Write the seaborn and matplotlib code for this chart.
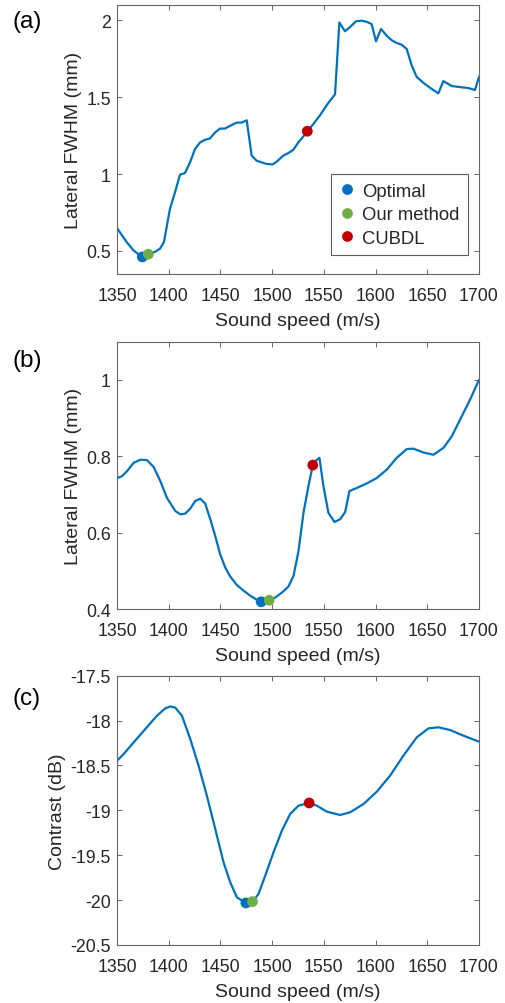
import matplotlib
matplotlib.use("Agg")
import matplotlib.pyplot as plt
import seaborn as sns
import pandas as pd
from matplotlib.ticker import FormatStrFormatter

# ----------------------------
# Data
# ----------------------------
speed_a = [1350, 1359.3, 1365.8, 1373.9, 1380.3, 1386.7, 1391.6, 1395.4, 1401.2, 1406.1,
           1410.9, 1415.7, 1420.6, 1425.4, 1430.3, 1435.1, 1439.9, 1444.8, 1449.6, 1454.4,
           1459.3, 1465.7, 1470.5, 1475.4, 1480.2, 1485.0, 1489.9, 1494.7, 1500.5, 1504.4,
           1510.8, 1515.7, 1520.5, 1525.3, 1530.2, 1534.0, 1539.8, 1546.3, 1552.7, 1560.8,
           1565.0, 1570.4, 1575.3, 1581.1, 1586.6, 1591.4, 1596.2, 1600.4, 1605.3, 1610.7,
           1615.6, 1620.4, 1625.2, 1630.1, 1634.9, 1639.7, 1646.2, 1652.6, 1660.7, 1665.5,
           1673.6, 1681.6, 1689.7, 1696.1, 1700]
fwhm_a = [0.649, 0.558, 0.505, 0.461, 0.479, 0.494, 0.515, 0.558, 0.774, 0.882,
          0.996, 1.007, 1.076, 1.163, 1.206, 1.223, 1.232, 1.271, 1.296, 1.296,
          1.314, 1.335, 1.335, 1.350, 1.120, 1.087, 1.076, 1.066, 1.063, 1.081,
          1.120, 1.137, 1.158, 1.206, 1.245, 1.279, 1.325, 1.383, 1.448, 1.519,
          1.987, 1.929, 1.957, 1.994, 1.998, 1.991, 1.976, 1.864, 1.944, 1.901,
          1.871, 1.853, 1.842, 1.814, 1.707, 1.633, 1.594, 1.562, 1.525, 1.605,
          1.573, 1.566, 1.560, 1.547, 1.633]

speed_b = [1350, 1354.8, 1359.7, 1366.1, 1372.5, 1379.0, 1385.4, 1391.9, 1398.3, 1406.3,
           1411.2, 1416.0, 1420.8, 1425.7, 1430.5, 1435.3, 1440.2, 1445.0, 1449.8, 1454.6,
           1459.5, 1465.9, 1472.4, 1478.8, 1485.2, 1489.4, 1497.2, 1502.9, 1509.4, 1515.8,
           1520.7, 1525.5, 1530.3, 1535.1, 1539.3, 1541.6, 1545.7, 1549.6, 1554.4, 1560.3,
           1565.7, 1570.6, 1574.7, 1581.8, 1591.5, 1601.1, 1610.8, 1620.5, 1630.1, 1636.6,
           1646.2, 1655.9, 1665.6, 1673.6, 1681.7, 1691.3, 1700]
fwhm_b = [0.743, 0.748, 0.761, 0.783, 0.791, 0.790, 0.772, 0.735, 0.691, 0.657,
          0.648, 0.650, 0.663, 0.683, 0.689, 0.676, 0.635, 0.591, 0.543, 0.509,
          0.485, 0.463, 0.448, 0.435, 0.424, 0.419, 0.423, 0.430, 0.443, 0.459,
          0.487, 0.552, 0.652, 0.722, 0.777, 0.787, 0.796, 0.722, 0.652, 0.628,
          0.635, 0.654, 0.709, 0.717, 0.729, 0.743, 0.765, 0.796, 0.819, 0.820,
          0.810, 0.804, 0.822, 0.852, 0.896, 0.948, 1.000]

speed_c = [1350, 1356.4, 1366.1, 1377.4, 1388.6, 1396.6, 1401.5, 1406.3, 1412.8, 1420.8,
           1428.9, 1436.9, 1445.0, 1453.0, 1459.5, 1465.9, 1474.6, 1481.0, 1486.8, 1493.3,
           1501.3, 1509.4, 1517.4, 1525.5, 1535.8, 1543.2, 1552.9, 1565.7, 1575.4, 1588.3,
           1601.2, 1614.0, 1626.9, 1639.8, 1651.1, 1660.7, 1672.0, 1684.9, 1700]
contrast_c = [-18.447, -18.373, -18.243, -18.094, -17.946, -17.864, -17.842, -17.856, -17.946, -18.205,
              -18.503, -18.837, -19.208, -19.579, -19.802, -19.969, -20.032, -20.017, -19.932, -19.728,
              -19.468, -19.227, -19.041, -18.948, -18.918, -18.948, -19.015, -19.052, -19.022, -18.930,
              -18.792, -18.614, -18.391, -18.187, -18.087, -18.075, -18.105, -18.168, -18.235]

methods = ["Optimal", "Our method", "CUBDL"]
pick_a_x = [1374.5, 1380.3, 1534.0]
pick_a_y = [0.461, 0.479, 1.279]
pick_b_x = [1489.4, 1497.2, 1539.3]
pick_b_y = [0.419, 0.423, 0.777]
pick_c_x = [1474.6, 1481.0, 1535.8]
pick_c_y = [-20.032, -20.017, -18.918]

panel_labels = ["(a)", "(b)", "(c)"]
y_labels = ["Lateral FWHM (mm)", "Lateral FWHM (mm)", "Contrast (dB)"]

# ----------------------------
# Style
# ----------------------------
sns.set_style("ticks")
plt.rcParams['font.family'] = ['Liberation Sans', 'DejaVu Sans']
plt.rcParams['axes.unicode_minus'] = False
plt.rcParams['xtick.direction'] = 'in'
plt.rcParams['ytick.direction'] = 'in'

line_color = '#0072BD'
palette = {"Optimal": '#0070C0', "Our method": '#70AD47', "CUBDL": '#C00000'}
axis_color = '#666666'
text_color = '#262626'

fig = plt.figure(figsize=(5.05, 10.04), dpi=100)
positions = [[0.2317, 0.7261, 0.7168, 0.2679],
             [0.2317, 0.3924, 0.7168, 0.2662],
             [0.2317, 0.0578, 0.7168, 0.2682]]

panels = [
    (speed_a, fwhm_a, pick_a_x, pick_a_y, (0.35, 2.1), [0.5, 1, 1.5, 2]),
    (speed_b, fwhm_b, pick_b_x, pick_b_y, (0.4, 1.1), [0.4, 0.6, 0.8, 1]),
    (speed_c, contrast_c, pick_c_x, pick_c_y, (-20.5, -17.5),
     [-20.5, -20, -19.5, -19, -18.5, -18, -17.5]),
]

for i, (sx, sy, px, py, ylim, yticks) in enumerate(panels):
    ax = fig.add_axes(positions[i])
    curve = pd.DataFrame({"speed": sx, "value": sy})
    picks = pd.DataFrame({"speed": px, "value": py, "method": methods})
    sns.lineplot(x="speed", y="value", data=curve, ax=ax, color=line_color,
                 linewidth=1.6, sort=False, estimator=None)
    sns.scatterplot(x="speed", y="value", data=picks, hue="method", hue_order=methods,
                    palette=palette, s=60, edgecolor='none', ax=ax, zorder=5,
                    legend=(i == 0))

    ax.set_xlim(1350, 1700)
    ax.set_xticks([1350, 1400, 1450, 1500, 1550, 1600, 1650, 1700])
    ax.set_ylim(*ylim)
    ax.set_yticks(yticks)
    ax.yaxis.set_major_formatter(FormatStrFormatter('%g'))
    ax.tick_params(axis='both', which='both', top=True, right=True, length=3.5,
                   width=0.7, color=axis_color, labelsize=12.8, labelcolor=text_color)
    ax.tick_params(axis='x', pad=9.5)
    ax.tick_params(axis='y', pad=4.5)
    for sp in ax.spines.values():
        sp.set_visible(True)
        sp.set_color(axis_color)
        sp.set_linewidth(0.8)
    ax.set_xlabel("Sound speed (m/s)", fontsize=14, color=text_color, labelpad=5.5)
    ax.set_ylabel(y_labels[i], fontsize=14, color=text_color, labelpad=3)

    mid_px = [22, 361, 699][i]
    fig.text(12 / 505, 1 - mid_px / 1004, panel_labels[i], fontsize=17.5,
             ha='left', va='center', color='black')

    if i == 0:
        leg = ax.legend(loc='lower right', bbox_to_anchor=(0.9696, 0.0706),
                        borderaxespad=0, frameon=True, fancybox=False,
                        fontsize=13.3, handletextpad=0.45, borderpad=0.45,
                        labelspacing=0.35, handlelength=0.8, markerscale=1.0)
        leg.get_frame().set_edgecolor('#333333')
        leg.get_frame().set_linewidth(0.8)
        leg.set_title(None)

fig.savefig("out.png", dpi=100)
